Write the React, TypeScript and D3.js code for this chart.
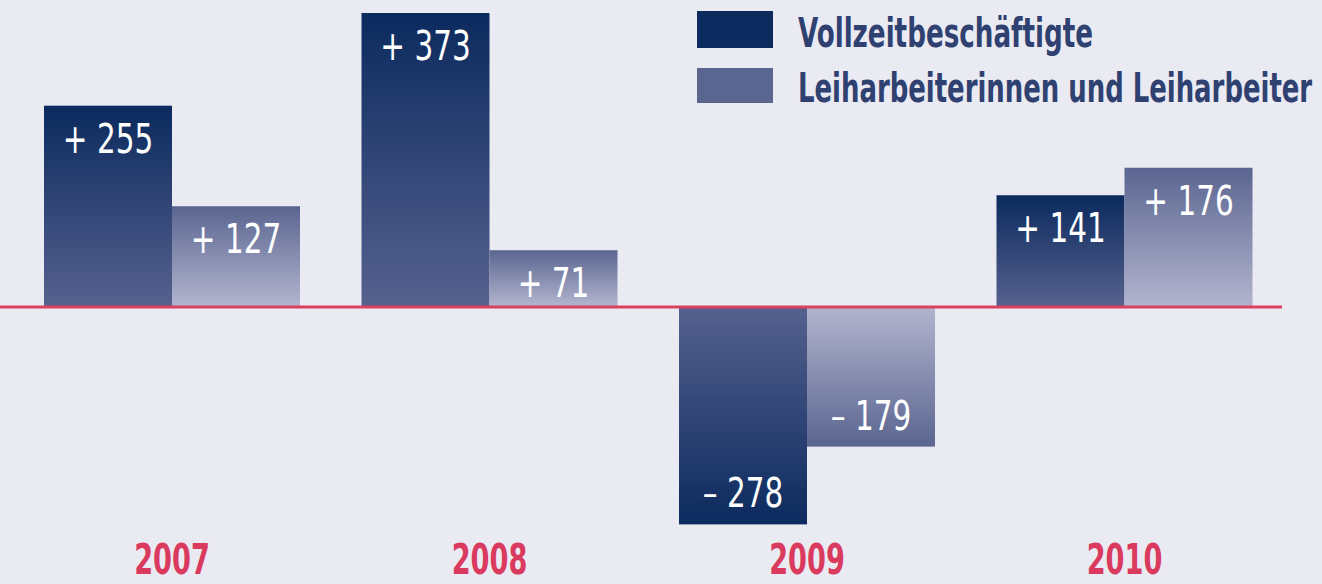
import React, { useLayoutEffect, useRef, useState } from "react";
import * as d3 from "d3";

const years = ["2007", "2008", "2009", "2010"];
const seriesNames = ["Vollzeitbeschäftigte", "Leiharbeiterinnen und Leiharbeiter"];
const vollzeit = [255, 373, -278, 141];
const leiharbeit = [127, 71, -179, 176];

const W = 1322;
const H = 584;
const FONT = "'DejaVu Sans Condensed', 'Liberation Sans Narrow', sans-serif";

const fmt = (v: number) => (v >= 0 ? "+ " : "\u2013 ") + Math.abs(v);

function FitText({ x, y, width, children, ...rest }: any) {
  const ref = useRef<SVGTextElement>(null);
  const [sx, setSx] = useState(0.75);
  useLayoutEffect(() => {
    if (ref.current) {
      const w = ref.current.getComputedTextLength();
      if (w > 0) setSx(width / w);
    }
  }, [width, children]);
  return (
    <g transform={`translate(${x}, ${y}) scale(${sx}, 1)`}>
      <text ref={ref} x={0} y={0} {...rest}>
        {children}
      </text>
    </g>
  );
}

export default function App() {
  const x = d3.scaleBand<string>().domain(years).range([44, 1252.5]).paddingInner(0.1937).paddingOuter(0);
  const xs = d3.scaleBand<string>().domain(seriesNames).range([0, x.bandwidth()]).padding(0);
  const y = d3.scaleLinear().domain([0, 373]).range([306, 13]);

  const seriesData = [
    { name: seriesNames[0], values: vollzeit, pos: "gDarkPos", neg: "gDarkNeg", legend: "#0b2a5e" },
    { name: seriesNames[1], values: leiharbeit, pos: "gLightPos", neg: "gLightNeg", legend: "#5a6590" },
  ];

  const legendW = [295, 514];

  return (
    <svg width={W} height={H} style={{ position: "absolute", left: 0, top: 0, display: "block" }}>
      <defs>
        <linearGradient id="gDarkPos" x1="0" y1="0" x2="0" y2="1">
          <stop offset="0" stopColor="#0b2a5e" />
          <stop offset="1" stopColor="#56618e" />
        </linearGradient>
        <linearGradient id="gDarkNeg" x1="0" y1="1" x2="0" y2="0">
          <stop offset="0" stopColor="#0b2a5e" />
          <stop offset="1" stopColor="#56618e" />
        </linearGradient>
        <linearGradient id="gLightPos" x1="0" y1="0" x2="0" y2="1">
          <stop offset="0" stopColor="#5a6590" />
          <stop offset="1" stopColor="#b3b5cf" />
        </linearGradient>
        <linearGradient id="gLightNeg" x1="0" y1="1" x2="0" y2="0">
          <stop offset="0" stopColor="#5a6590" />
          <stop offset="1" stopColor="#b3b5cf" />
        </linearGradient>
      </defs>
      <rect x={0} y={0} width={W} height={H} fill="#eaeaf3" />

      {seriesData.map((s) =>
        years.map((yr, i) => {
          const v = s.values[i];
          const bx = (x(yr) ?? 0) + (xs(s.name) ?? 0);
          const top = Math.min(y(v), y(0));
          const h = Math.abs(y(v) - y(0));
          const ly = v >= 0 ? y(v) + 47 : y(v) - 17;
          return (
            <g key={s.name + yr}>
              <rect x={bx} y={top} width={xs.bandwidth()} height={h} fill={`url(#${v >= 0 ? s.pos : s.neg})`} />
              <g transform={`translate(${bx + xs.bandwidth() / 2}, ${ly}) scale(0.8, 1)`}>
                <text x={0} y={0} textAnchor="middle" fill="#ffffff" fontFamily={FONT} fontSize={41}>
                  {fmt(v)}
                </text>
              </g>
            </g>
          );
        })
      )}

      <line x1={0} x2={1282} y1={y(0) + 1} y2={y(0) + 1} stroke="#d9415f" strokeWidth={3} />

      {years.map((yr) => (
        <g key={yr} transform={`translate(${(x(yr) ?? 0) + x.bandwidth() / 2}, 574) scale(0.72, 1)`}>
          <text x={0} y={0} textAnchor="middle" fill="#d93a5e" fontFamily={FONT} fontWeight="bold" fontSize={42}>
            {yr}
          </text>
        </g>
      ))}

      {seriesData.map((s, i) => (
        <g key={s.name} transform={`translate(697, ${i === 0 ? 11 : 68})`}>
          <rect x={0} y={0} width={76} height={i === 0 ? 37 : 35} fill={s.legend} />
          <FitText
            x={101}
            y={i === 0 ? 36 : 34}
            width={legendW[i]}
            fill="#2f4170"
            fontFamily={FONT}
            fontWeight="bold"
            fontSize={41}
          >
            {s.name}
          </FitText>
        </g>
      ))}
    </svg>
  );
}
